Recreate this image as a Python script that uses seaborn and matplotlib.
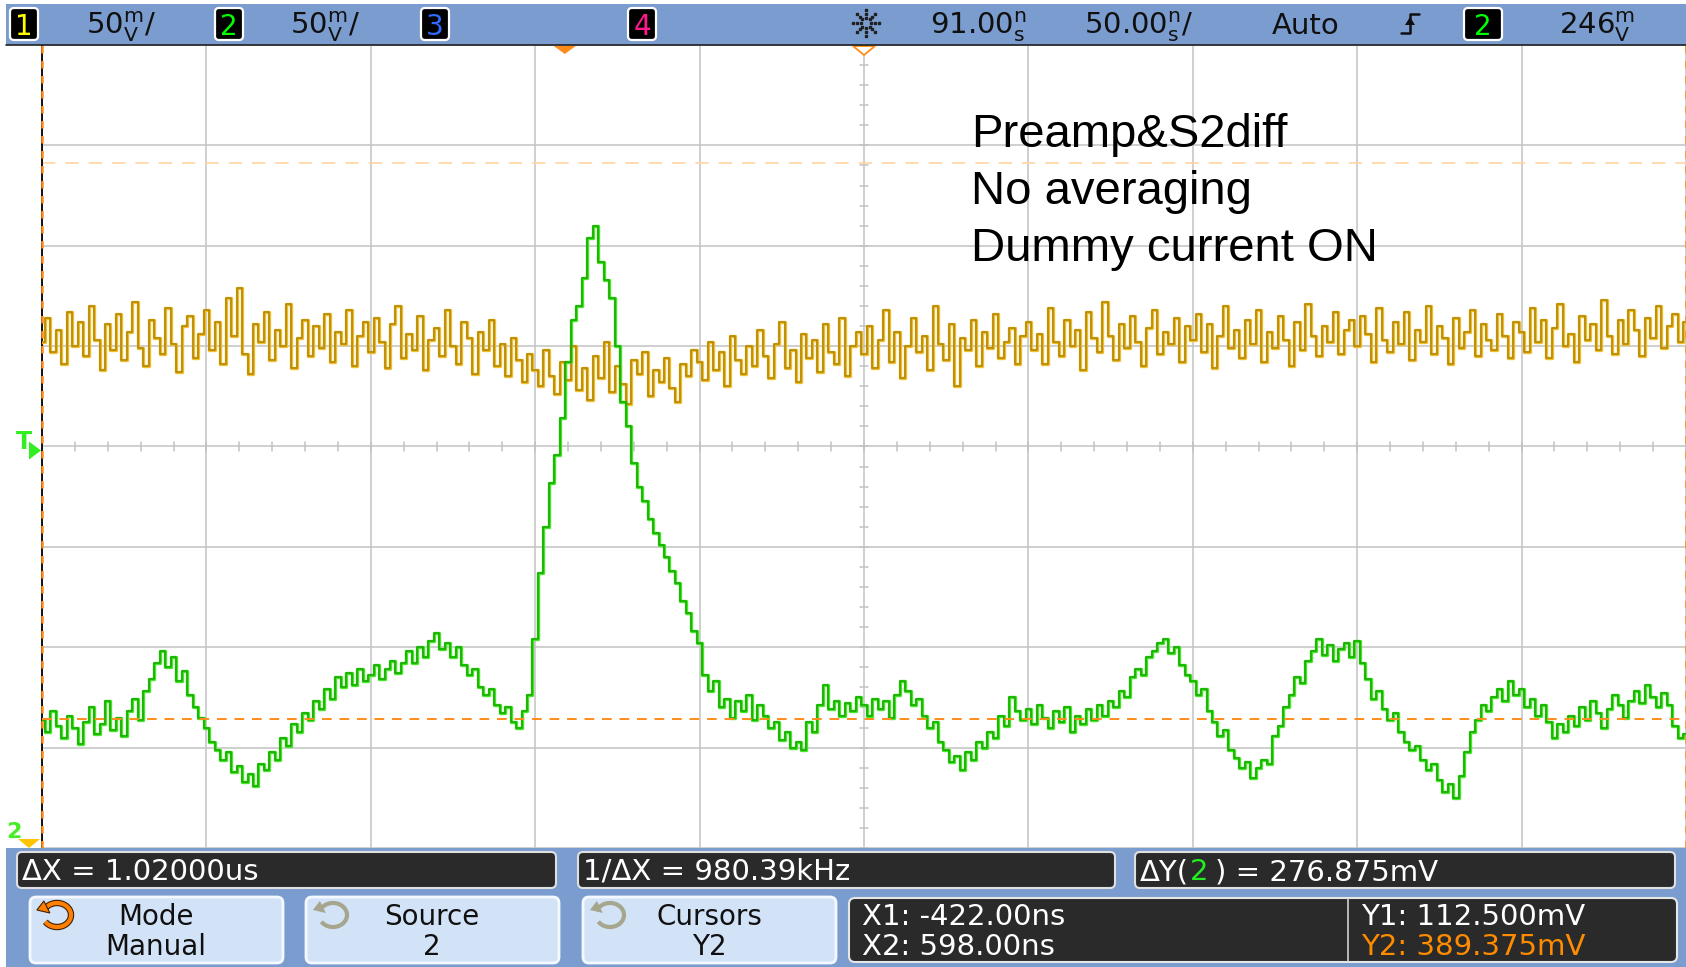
import numpy as np
import pandas as pd
import matplotlib
matplotlib.use("Agg")
import matplotlib.pyplot as plt
import seaborn as sns
from matplotlib.patches import Rectangle, FancyBboxPatch, Polygon, Arc

# Scope settings (header + cursor readout)
T_DELAY = 91.0        # ns at screen centre
T_PER_DIV = 50.0      # ns/div
V_CENTER = 248.0      # mV at the centre line (ch2 scale)
V_PER_DIV = 50.0      # mV/div
TRIG_LEVEL = 246.0    # mV
Y1_MV = 112.5
Y2_MV = 389.375

# Channel 1 (yellow), mV on the 50 mV/div screen, one division per line
ch1_mv = [
    300, 312, 295, 306, 289, 315, 298, 310, 293, 318, 301, 286, 309, 296, 314, 291, 305, 320, 297, 288, 311, 302, 294, 317, 299, 285, 308, 313, 292, 304,
    316, 296, 310, 289, 322, 303, 327, 294, 284, 309, 300, 315, 291, 306, 298, 319, 287, 302, 311, 293, 308, 297, 314, 290, 305, 299, 316, 288, 303, 310,
    295, 312, 300, 287, 309, 318, 292, 304, 296, 313, 286, 301, 307, 293, 316, 298, 289, 310, 302, 284, 305, 296, 311, 288, 299, 283, 302, 291, 280, 294,
    286, 278, 296, 283, 274, 290, 281, 298, 276, 287, 271, 293, 282, 300, 275, 288, 279, 269, 291, 284, 295, 273, 286, 280, 292, 277, 270, 289, 283, 296,
    290, 281, 300, 286, 295, 278, 303, 291, 284, 298, 288, 306, 293, 282, 299, 310, 287, 296, 280, 304, 292, 301, 285, 309, 295, 289, 312, 283, 298, 305,
    294, 308, 287, 301, 316, 290, 305, 282, 298, 312, 295, 303, 286, 318, 299, 291, 309, 278, 302, 296, 311, 288, 305, 297, 314, 292, 300, 307, 289, 303,
    310, 296, 304, 289, 317, 300, 293, 311, 298, 306, 286, 315, 302, 295, 320, 303, 291, 309, 297, 313, 300, 288, 307, 316, 294, 305, 299, 312, 290, 308,
    301, 314, 295, 309, 287, 303, 318, 297, 306, 292, 311, 299, 316, 290, 305, 297, 313, 301, 288, 310, 296, 319, 303, 293, 308, 300, 315, 294, 306, 311,
    298, 313, 304, 290, 317, 301, 295, 310, 299, 315, 291, 306, 300, 318, 294, 308, 302, 289, 312, 297, 305, 316, 293, 309, 301, 296, 314, 303, 292, 310,
    305, 295, 317, 300, 311, 292, 307, 319, 298, 304, 290, 313, 301, 309, 296, 321, 303, 294, 311, 299, 316, 306, 293, 312, 302, 318, 297, 308, 314, 300, 310,
]

# Channel 2 (green), mV
ch2_mv = [
    112, 106, 116, 109, 103, 114, 108, 100, 111, 118, 105, 110, 121, 107, 113, 104, 116, 122, 112, 126, 132, 140, 146, 138, 143, 131, 136, 124, 118, 113,
    108, 101, 97, 92, 96, 86, 89, 81, 85, 79, 90, 87, 96, 92, 103, 99, 110, 106, 115, 112, 121, 117, 127, 122, 133, 128, 135, 129, 137, 131,
    134, 139, 132, 137, 141, 135, 140, 146, 140, 148, 143, 151, 155, 147, 150, 143, 148, 139, 134, 137, 128, 124, 127, 119, 115, 118, 111, 108, 116, 124,
    152, 185, 208, 230, 244, 262, 290, 311, 318, 332, 352, 358, 340, 331, 322, 298, 270, 258, 240, 228, 221, 212, 205, 199, 193, 186, 180, 171, 165, 156,
    150, 134, 126, 131, 118, 122, 113, 121, 116, 124, 112, 119, 114, 108, 111, 102, 106, 98, 101, 97, 111, 106, 119, 129, 117, 121, 114, 120, 116, 123,
    119, 114, 122, 117, 121, 113, 124, 131, 126, 119, 122, 114, 108, 111, 101, 97, 91, 94, 87, 96, 92, 101, 98, 106, 103, 114, 109, 123, 116, 112,
    117, 110, 119, 113, 108, 116, 111, 118, 106, 114, 110, 117, 112, 119, 114, 121, 118, 126, 123, 133, 137, 134, 143, 146, 150, 152, 145, 148, 139, 134,
    131, 124, 127, 116, 111, 104, 107, 97, 93, 88, 91, 83, 88, 92, 90, 104, 109, 118, 124, 133, 130, 141, 146, 152, 144, 149, 141, 147, 150, 143,
    151, 140, 132, 122, 126, 117, 112, 115, 106, 101, 97, 99, 92, 87, 90, 82, 76, 80, 73, 84, 96, 106, 112, 119, 116, 123, 127, 121, 131, 124,
    127, 118, 122, 114, 119, 111, 103, 110, 106, 114, 109, 118, 112, 121, 115, 108, 117, 124, 119, 113, 121, 126, 120, 129, 123, 118, 125, 119, 109, 103, 105,
]

# Header and readout texts
header_texts = [r"50$^{\rm m}_{\rm V}$/", r"50$^{\rm m}_{\rm V}$/",
                r"91.00$^{\rm n}_{\rm s}$", r"50.00$^{\rm n}_{\rm s}$/",
                "Auto", r"246$^{\rm m}_{\rm V}$"]
header_x = [86, 290, 930, 1084, 1272, 1559]
chan_labels = ["1", "2", "3", "4", "2"]
chan_colors = ["#ffff00", "#00ff00", "#2f6bff", "#ff1a8c", "#00ff00"]
chan_box_x = [10, 215, 421, 628, 1464]
chan_box_w = [28, 28, 28, 28, 38]
softkey_top = ["Mode", "Source", "Cursors"]
softkey_bot = ["Manual", "2", "Y2"]
notes = ["Preamp&S2diff", "No averaging", "Dummy current ON"]

W, H = 1686, 967
PL, PR, PT, PB = 42, 1686, 45, 848
BLUE = "#7b9ccf"
ORANGE = "#ff8c1a"

sns.set_style("white")
plt.rcParams["font.family"] = ["DejaVu Sans"]

fig = plt.figure(figsize=(W / 100, H / 100), dpi=100)
fig.patch.set_facecolor("white")
ax = fig.add_axes([PL / W, 1 - PB / H, (PR - PL) / W, (PB - PT) / H])

t0 = T_DELAY - 5 * T_PER_DIV
t1 = T_DELAY + 5 * T_PER_DIV
v0 = V_CENTER - 4 * V_PER_DIV
v1 = V_CENTER + 4 * V_PER_DIV

df = pd.DataFrame({
    "t": np.concatenate([np.linspace(t0, t1, len(ch1_mv)), np.linspace(t0, t1, len(ch2_mv))]),
    "mv": ch1_mv + ch2_mv,
    "ch": ["1"] * len(ch1_mv) + ["2"] * len(ch2_mv),
})

# graticule
ax.set_xlim(t0, t1)
ax.set_ylim(v0, v1)
ax.set_xticks(np.arange(t0, t1 + 1, T_PER_DIV))
ax.set_yticks(np.arange(v0, v1 + 1, V_PER_DIV))
ax.grid(True, color="#c2c2c2", lw=1.1)
ax.tick_params(length=0, labelbottom=False, labelleft=False)
for s in ["top", "right", "bottom"]:
    ax.spines[s].set_visible(False)
ax.spines["left"].set_color("black")
ax.spines["left"].set_linewidth(1.3)
for x in np.arange(t0, t1 + 0.1, T_PER_DIV / 5):
    ax.plot([x, x], [V_CENTER - 2, V_CENTER + 2], color="#c2c2c2", lw=1.1, zorder=1)
for y in np.arange(v0, v1 + 0.1, V_PER_DIV / 5):
    ax.plot([T_DELAY - 1.2, T_DELAY + 1.2], [y, y], color="#c2c2c2", lw=1.1, zorder=1)

# traces: light wide pass then darker core, scope style
sns.lineplot(data=df, x="t", y="mv", hue="ch", palette={"1": "#eebc2c", "2": "#44e626"},
             estimator=None, sort=False, lw=2.4, drawstyle="steps-mid", legend=False, ax=ax, zorder=3)
sns.lineplot(data=df, x="t", y="mv", hue="ch", palette={"1": "#b08600", "2": "#16a800"},
             estimator=None, sort=False, lw=1.1, drawstyle="steps-mid", legend=False, ax=ax, zorder=4)
ax.set_xlabel("")
ax.set_ylabel("")

# cursors
ax.axhline(Y2_MV, color="#ffd4a0", lw=1.2, dashes=(8, 6), zorder=2)
ax.axhline(Y1_MV, color=ORANGE, lw=1.4, dashes=(5, 4), zorder=5)
ax.axvline(t0, color=ORANGE, lw=1.8, dashes=(3, 3), zorder=6, clip_on=False)
ax.axvline(t1, color=ORANGE, lw=1.8, dashes=(3, 3), zorder=6, clip_on=False)

# overlay in pixel coordinates
ov = fig.add_axes([0, 0, 1, 1], zorder=5)
ov.set_xlim(0, W)
ov.set_ylim(H, 0)
ov.axis("off")
ov.patch.set_visible(False)

for i, line in enumerate(notes):
    ov.text(971, 147 + 57 * i, line, fontsize=34, family="Liberation Sans", color="black", va="baseline")

def t_to_px(t):
    return PL + (t - t0) / (t1 - t0) * (PR - PL)

def v_to_px(v):
    return PB - (v - v0) / (v1 - v0) * (PB - PT)

# top bar
ov.add_patch(Rectangle((6, 4), W - 6, PT - 4, fc=BLUE, ec="none"))
ov.plot([6, W], [PT, PT], color="#202020", lw=1.2)
for lab, col, bx, bw in zip(chan_labels, chan_colors, chan_box_x, chan_box_w):
    ov.add_patch(FancyBboxPatch((bx, 8), bw, 32, boxstyle="round,pad=0,rounding_size=4",
                                fc="black", ec="white", lw=1.6))
    ov.text(bx + bw / 2, 35, lab, color=col, fontsize=20, ha="center", va="baseline")
for txt, x in zip(header_texts, header_x):
    ov.text(x, 34, txt, fontsize=21, color="#101010", va="baseline")

# run/stop star glyph
for ang in np.arange(0, 360, 45):
    for r in (5, 9, 13):
        ov.plot(866 + r * np.cos(np.radians(ang)), 23 + r * np.sin(np.radians(ang)),
                "s", ms=1.6, color="#202020")
# trigger edge glyph
ov.plot([1401, 1410, 1410, 1419], [33, 33, 14, 14], color="#101010", lw=1.8)
ov.add_patch(Polygon([[1405, 25], [1415, 25], [1410, 17]], fc="#101010", ec="none"))

# markers at the plot top: trigger point (t=0) and delay reference
xt = t_to_px(0.0)
ov.add_patch(Polygon([[xt - 11, PT + 1], [xt + 11, PT + 1], [xt, PT + 9]], fc=ORANGE, ec="none"))
xd = t_to_px(T_DELAY)
ov.add_patch(Polygon([[xd - 11, PT + 1], [xd + 11, PT + 1], [xd, PT + 10]], fc="white", ec=ORANGE, lw=1.3))

# trigger level marker
yt = v_to_px(TRIG_LEVEL)
ov.text(24, yt - 2, "T", color="#33ee22", fontsize=17, ha="center", va="baseline", fontweight="bold")
ov.add_patch(Polygon([[29, yt - 9], [29, yt + 9], [41, yt]], fc="#33ee22", ec="none"))
# ground marker (below screen)
ov.text(14, 838, "2", color="#44ee22", fontsize=16, ha="center", va="baseline", fontweight="bold")
ov.add_patch(Polygon([[18, 839], [40, 839], [29, 848]], fc="#ffc400", ec="none"))

# bottom area
ov.add_patch(Rectangle((6, PB), W - 6, H - PB, fc=BLUE, ec="none"))
for bx0, bx1 in [(17, 556), (578, 1115), (1135, 1675)]:
    ov.add_patch(FancyBboxPatch((bx0, 852), bx1 - bx0, 36, boxstyle="round,pad=0,rounding_size=5",
                                fc="#2a2a2a", ec="#e0e0e0", lw=1.5))
ov.text(22, 880, "ΔX = 1.02000us", color="white", fontsize=21, va="baseline")
ov.text(583, 880, "1/ΔX = 980.39kHz", color="white", fontsize=21, va="baseline")

renderer = fig.canvas.get_renderer()
inv = ov.transData.inverted()
p1 = ov.text(1140, 880, "ΔY(", color="white", fontsize=21, va="baseline")
xe = inv.transform((p1.get_window_extent(renderer).x1, 0))[0]
p2 = ov.text(xe + 1, 880, "2", color="#22ee22", fontsize=21, va="baseline")
xe = inv.transform((p2.get_window_extent(renderer).x1, 0))[0]
ov.text(xe + 6, 880, ") = 276.875mV", color="white", fontsize=21, va="baseline")

# softkeys
key_x = [30, 306, 583]
icon_col = ["#ff8000", "#a6a68e", "#a6a68e"]
for kx, top, bot, ic in zip(key_x, softkey_top, softkey_bot, icon_col):
    ov.add_patch(FancyBboxPatch((kx, 897), 253, 66, boxstyle="round,pad=0,rounding_size=6",
                                fc="#d2e3f7", ec="#f4f8ff", lw=2))
    cx = kx + 126
    ov.text(cx, 925, top, fontsize=20, ha="center", va="baseline", color="#101010")
    ov.text(cx, 955, bot, fontsize=20, ha="center", va="baseline", color="#101010")
    ix, iy = kx + 27, 915
    if ic == "#ff8000":
        ov.add_patch(Arc((ix, iy), 28, 24, theta1=210, theta2=510, color="#402000", lw=4.6))
    ov.add_patch(Arc((ix, iy), 28, 24, theta1=210, theta2=510, color=ic, lw=3.0))
    ax_ = ix + 14 * np.cos(np.radians(210))
    ay_ = iy + 12 * np.sin(np.radians(210))
    ov.add_patch(Polygon([[ax_ - 8, ay_ + 1], [ax_ + 5, ay_ + 4], [ax_ - 1, ay_ - 8]], fc=ic,
                         ec="#402000" if ic == "#ff8000" else "none", lw=0.8))

# cursor value box
ov.add_patch(FancyBboxPatch((849, 898), 828, 64, boxstyle="round,pad=0,rounding_size=6",
                            fc="#2a2a2a", ec="#e6e6e6", lw=1.5))
ov.plot([1348, 1348], [899, 961], color="#d0d0d0", lw=1.2)
ov.text(862, 925, "X1: -422.00ns", color="white", fontsize=21, va="baseline")
ov.text(862, 955, "X2: 598.00ns", color="white", fontsize=21, va="baseline")
ov.text(1361, 925, "Y1: 112.500mV", color="white", fontsize=21, va="baseline")
ov.text(1361, 955, "Y2: 389.375mV", color="#ff8c00", fontsize=21, va="baseline")

fig.savefig("out.png", dpi=100)
